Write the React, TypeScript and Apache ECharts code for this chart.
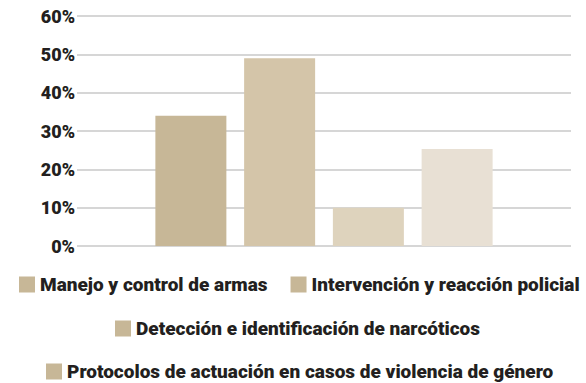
import React, { useEffect, useRef } from "react";
import * as echarts from "echarts";

const categories = ["Capacitación"];
const seriesNames = [
  "Manejo y control de armas",
  "Intervención y reacción policial",
  "Detección e identificación de narcóticos",
  "Protocolos de actuación en casos de violencia de género",
];
const seriesValues = [34, 49, 10, 25.3];
const barColors = ["#c7b797", "#d4c5a9", "#ded3bd", "#e8e0d4"];
const legendColor = "#c7b797";
const yTicks = [0, 10, 20, 30, 40, 50, 60];

export default function App() {
  const ref = useRef<HTMLDivElement>(null);
  useEffect(() => {
    if (!ref.current) return;
    const chart = echarts.init(ref.current, undefined, { renderer: "svg" });
    const font = "Roboto";
    const legendText = {
      fontFamily: font,
      fontWeight: 900,
      fontSize: 19,
      lineHeight: 16,
      color: "#231f20",
    };
    const mkLegend = (names: string[], top: number, left: number) => ({
      data: names.map((n) => ({ name: n, itemStyle: { color: legendColor } })),
      top,
      left,
      itemWidth: 16,
      itemHeight: 16,
      itemGap: 23,
      icon: "rect",
      textStyle: legendText,
      padding: 0,
      selectedMode: false,
    });
    chart.setOption({
      animation: false,
      grid: { left: 77, right: 15, top: 16, bottom: 137, containLabel: false },
      legend: [
        mkLegend([seriesNames[0], seriesNames[1]], 275, 19),
        mkLegend([seriesNames[2]], 319, 115),
        mkLegend([seriesNames[3]], 362, 46),
      ],
      xAxis: {
        type: "category",
        data: categories,
        axisLine: { show: false },
        axisTick: { show: false },
        axisLabel: { show: false },
      },
      yAxis: {
        type: "value",
        min: yTicks[0],
        max: yTicks[yTicks.length - 1],
        interval: 10,
        axisLine: { show: false },
        axisTick: { show: false },
        axisLabel: {
          formatter: "{value}%",
          margin: 2,
          fontFamily: font,
          fontWeight: 900,
          fontSize: 18,
          color: "#231f20",
        },
        splitLine: { lineStyle: { color: "#d6d6d6", width: 2 } },
      },
      series: seriesNames.map((name, i) => ({
        name,
        type: "bar",
        data: [seriesValues[i]],
        barWidth: 71,
        barGap: "25%",
        itemStyle: { color: barColors[i] },
      })),
    });
    return () => chart.dispose();
  }, []);
  return (
    <div
      ref={ref}
      style={{ position: "absolute", left: 0, top: 0, width: 586, height: 383, background: "#fff" }}
    />
  );
}
